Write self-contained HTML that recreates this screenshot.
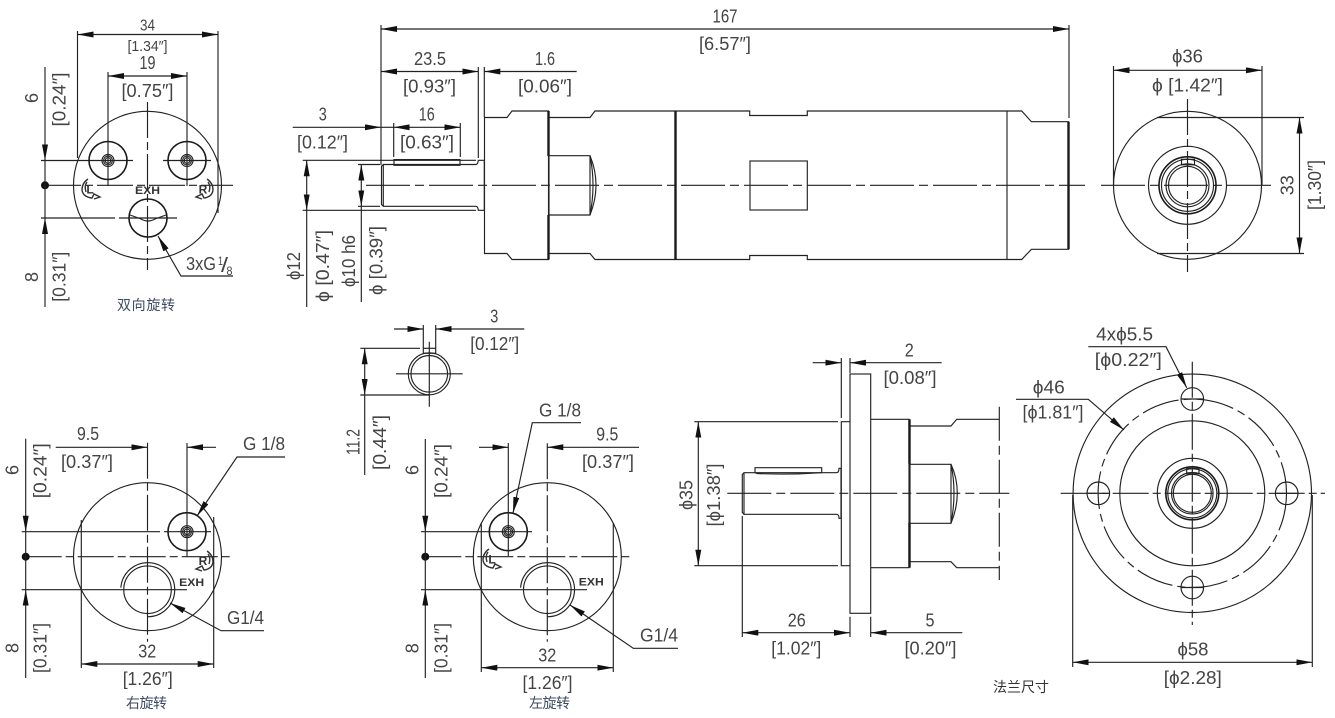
<!DOCTYPE html>
<html><head><meta charset="utf-8"><style>
html,body{margin:0;padding:0;background:#fff}
svg{display:block}
.l{fill:none;stroke:#222;stroke-width:1.15}
.s{fill:none;stroke:#333;stroke-width:1.4}
.h{fill:none;stroke:#1a1a1a;stroke-width:2.4}
.m{fill:none;stroke:#1a1a1a;stroke-width:1.6}
.c{fill:none;stroke:#222;stroke-width:1.15;stroke-dasharray:44 5 9 5}
.v{fill:none;stroke:#222;stroke-width:1.15;stroke-dasharray:36 4 8 4}
text{font-family:"Liberation Sans",sans-serif;font-size:18.5px;fill:#444;text-anchor:middle}
.b{font-weight:bold;font-size:11px;fill:#333}
.z{font-family:"Liberation Sans","WenQuanYi Zen Hei","Noto Sans CJK SC",sans-serif;font-size:14px;fill:#3c4a63}
</style></head><body>
<svg width="1335" height="718" viewBox="0 0 1335 718" xmlns="http://www.w3.org/2000/svg">
<defs>
<marker id="a" markerUnits="userSpaceOnUse" markerWidth="18" markerHeight="8" refX="16" refY="3" orient="auto-start-reverse"><path d="M0 0L16 3 0 6z" fill="#111"/></marker>
</defs>

<!-- top-left view -->
<g>
<circle class="l" cx="147.5" cy="185.3" r="74"/>
<path class="v" d="M147.5 102V270"/>
<path class="v" d="M45 185.3H233"/>
<circle cx="45" cy="185.3" r="4" fill="#111"/>
<path class="l" d="M77.5 31V158M218 31V213M108 72V186M187 72V186"/>
<path class="l" marker-start="url(#a)" marker-end="url(#a)" d="M77.5 34.5H218"/>
<path class="l" marker-start="url(#a)" marker-end="url(#a)" d="M108 76H187"/>
<path class="l" d="M45 67V160.5" marker-end="url(#a)"/>
<path class="l" d="M45 307V218" marker-end="url(#a)"/>
<path class="l" d="M45 160.5V218"/>
<path class="l" d="M41 160.5H133M163 160.5H211M41 218H115M119 218H177"/>
<circle class="m" cx="108" cy="160.5" r="19"/><circle class="l" cx="108" cy="160.5" r="6"/><circle class="l" cx="108" cy="160.5" r="4.4"/><circle class="l" cx="108" cy="160.5" r="2.8"/>
<circle class="m" cx="187" cy="160.5" r="19"/><circle class="l" cx="187" cy="160.5" r="6"/><circle class="l" cx="187" cy="160.5" r="4.4"/><circle class="l" cx="187" cy="160.5" r="2.8"/>
<circle class="m" cx="148" cy="218" r="19"/>
<path class="l" d="M130 215L141 219Q148 223 155 219L166 215"/>
<text class="b" x="147.5" y="194" textLength="25" lengthAdjust="spacingAndGlyphs">EXH</text>
<text class="b" x="203" y="193.5" style="font-size:12px">R</text>
<path class="s" d="M207 179Q213 183 213 190Q212 197 204 198L202 194L196 197L202 199M208 182Q211 186 209 192"/>
<text class="b" x="90" y="193.5" style="font-size:12px">L</text>
<path class="s" d="M88 179Q82 183 82 190Q83 197 92 198L94 194L100 197L94 199M87 182Q84 186 86 192"/>
<path class="l" d="M233 276H181L158 236" marker-end="url(#a)"/>
<text x="201" y="270" textLength="30" lengthAdjust="spacingAndGlyphs">3xG</text>
<text x="220.500" y="265" textLength="5" lengthAdjust="spacingAndGlyphs" style="font-size:12px">1</text>
<text x="224.500" y="272" textLength="7" lengthAdjust="spacingAndGlyphs" style="font-size:20px">/</text>
<text x="229.500" y="275" textLength="6" lengthAdjust="spacingAndGlyphs" style="font-size:12px">8</text>
<text x="147.500" y="30.700" textLength="15" lengthAdjust="spacingAndGlyphs" style="font-size:16px">34</text>
<text x="147.500" y="51" textLength="40" lengthAdjust="spacingAndGlyphs" style="font-size:14.5px">[1.34″]</text>
<text x="147.500" y="69" textLength="16" lengthAdjust="spacingAndGlyphs">19</text>
<text x="147.500" y="97" textLength="52" lengthAdjust="spacingAndGlyphs">[0.75″]</text>
<text transform="translate(38,98) rotate(-90)" textLength="10" lengthAdjust="spacingAndGlyphs">6</text>
<text transform="translate(65.500,99.500) rotate(-90)" textLength="54" lengthAdjust="spacingAndGlyphs">[0.24″]</text>
<text transform="translate(38,277) rotate(-90)" textLength="10" lengthAdjust="spacingAndGlyphs">8</text>
<text transform="translate(65.500,276.700) rotate(-90)" textLength="50" lengthAdjust="spacingAndGlyphs">[0.31″]</text>
<text class="z" x="146" y="310" textLength="58" style="font-size:14px">双向旋转</text>
</g>

<!-- main side view -->
<g>
<path class="c" d="M366 185.300H1085M1101 185.300H1274"/>
<path class="l" d="M381 25V165M1069 25V118"/>
<path class="l" marker-start="url(#a)" marker-end="url(#a)" d="M381 29H1069"/>
<path class="l" d="M478.300 67V158M484.300 67V117"/>
<path class="l" marker-start="url(#a)" marker-end="url(#a)" d="M381 71.500H478.300"/>
<path class="l" marker-end="url(#a)" d="M576.700 71.500H484.300"/>
<path class="l" marker-end="url(#a)" d="M292.700 127.300H381"/>
<path class="l" d="M381 127.300H394"/>
<path class="l" marker-start="url(#a)" marker-end="url(#a)" d="M393.700 127.300H460.300"/>
<path class="l" d="M393.700 123V157M460.300 123V157"/>
<path class="l" d="M302.700 160.300H476M302.700 210.300H476M358 164.500H380M358 206.300H380"/>
<path class="l" marker-start="url(#a)" marker-end="url(#a)" d="M306.700 160.300V210.300"/>
<path class="l" d="M306.700 210.300V307"/>
<path class="l" marker-start="url(#a)" marker-end="url(#a)" d="M361.300 164.500V206.300"/>
<path class="l" d="M361.300 206.300V302"/>
<!-- shaft -->
<path class="l" d="M383.300 164.500H476Q478 164 478.300 160.300H484.300V210.300H478.300Q478 206.500 476 206.300H383.300L381.500 204.500V166.300Z"/>
<path class="l" d="M383.300 164.500V206.300"/>
<path class="l" d="M394 159.600H460V165.300H394Z"/>
<!-- body -->
<path class="l" d="M484.500 117.500H507L512 111H548.500V259.500H512L507 253.500H484.500Z"/>
<path class="l" d="M549 117.500H590L595 111H749.700V115.500H807.300V111H1021.700L1031.400 121.700H1068.400V249.300H1031.400L1021.700 259.500H807.300V255.500H749.700V259.500H595L590 253.500H549"/>
<path class="h" d="M548.500 111V156M548.500 215V259.500M675.500 111V259.500M1068.500 121.700V249.300"/>
<path class="l" d="M1007 111V259.500"/>
<path class="l" d="M549 155.700H590Q596 170 596 185.300Q596 200 590 215H549Z"/>
<path class="l" d="M590 155.700Q593 170 593 185.300Q593 200 590 215V155.700"/>
<rect class="l" x="750" y="161" width="57.300" height="49"/>
<text x="725" y="22.700" textLength="25" lengthAdjust="spacingAndGlyphs">167</text>
<text x="725" y="50" textLength="52" lengthAdjust="spacingAndGlyphs">[6.57″]</text>
<text x="430" y="65" textLength="32" lengthAdjust="spacingAndGlyphs">23.5</text>
<text x="429.500" y="92.300" textLength="53" lengthAdjust="spacingAndGlyphs">[0.93″]</text>
<text x="545" y="65" textLength="20" lengthAdjust="spacingAndGlyphs">1.6</text>
<text x="545" y="92.300" textLength="54" lengthAdjust="spacingAndGlyphs">[0.06″]</text>
<text x="322.700" y="120.700" textLength="8" lengthAdjust="spacingAndGlyphs">3</text>
<text x="322.500" y="148.300" textLength="51" lengthAdjust="spacingAndGlyphs">[0.12″]</text>
<text x="426.700" y="120.700" textLength="16" lengthAdjust="spacingAndGlyphs">16</text>
<text x="427" y="148.300" textLength="54" lengthAdjust="spacingAndGlyphs">[0.63″]</text>
<text transform="translate(300,266) rotate(-90)" textLength="28" lengthAdjust="spacingAndGlyphs">ϕ12</text>
<text transform="translate(329,266) rotate(-90)" textLength="72" lengthAdjust="spacingAndGlyphs">ϕ [0.47″]</text>
<text transform="translate(355,261) rotate(-90)" textLength="52" lengthAdjust="spacingAndGlyphs">ϕ10 h6</text>
<text transform="translate(382.700,260.500) rotate(-90)" textLength="69" lengthAdjust="spacingAndGlyphs">ϕ [0.39″]</text>
</g>

<!-- top-right end view -->
<g>
<circle class="l" cx="1187.500" cy="185.300" r="74"/>
<circle class="l" cx="1187.500" cy="185.300" r="39"/>
<circle class="m" cx="1187.500" cy="185.300" r="28.500"/>
<circle class="l" cx="1187.500" cy="185.300" r="26"/>
<circle class="l" cx="1187.500" cy="185.300" r="21.500"/>
<circle class="l" cx="1187.500" cy="185.300" r="19"/>
<rect class="l" x="1181.500" y="159.300" width="13" height="5.500" fill="#fff"/>
<path class="v" d="M1187.500 99V272"/>
<path class="l" d="M1113.500 66V185M1262 66V185"/>
<path class="l" marker-start="url(#a)" marker-end="url(#a)" d="M1113.500 70.300H1262"/>
<path class="l" d="M1157 117.500H1304M1157 253.500H1304"/>
<path class="l" marker-start="url(#a)" marker-end="url(#a)" d="M1299.500 117.500V253.500"/>
<text x="1187.500" y="62.700" textLength="31" lengthAdjust="spacingAndGlyphs">ϕ36</text>
<text x="1187.500" y="91.700" textLength="71" lengthAdjust="spacingAndGlyphs">ϕ [1.42″]</text>
<text transform="translate(1293.500,185.300) rotate(-90)" textLength="20" lengthAdjust="spacingAndGlyphs">33</text>
<text transform="translate(1321,185) rotate(-90)" textLength="50" lengthAdjust="spacingAndGlyphs">[1.30″]</text>
</g>

<!-- bottom-left view -->
<g>
<circle class="l" cx="147.500" cy="556.700" r="74"/>
<path class="v" d="M147.500 442.700V641.700"/>
<path class="v" d="M25.700 556.700H232"/>
<circle cx="25.700" cy="556.700" r="4" fill="#111"/>
<path class="l" marker-end="url(#a)" d="M25.700 438.700V531.700"/>
<path class="l" marker-end="url(#a)" d="M25.700 678V589.700"/>
<path class="l" d="M25.700 531.700V589.700"/>
<path class="l" d="M21.700 531.700H160M164 531.700H211M21.700 589.700H187"/>
<circle class="m" cx="187" cy="531.700" r="19"/><circle class="l" cx="187" cy="531.700" r="6"/><circle class="l" cx="187" cy="531.700" r="4.400"/><circle class="l" cx="187" cy="531.700" r="2.800"/>
<circle class="l" cx="147.500" cy="589.700" r="23.800"/>
<path class="l" d="M120.800 587.700A27 27 0 1 1 147.500 616.700"/>
<text class="b" x="191.700" y="586" textLength="25" lengthAdjust="spacingAndGlyphs">EXH</text>
<text class="b" x="203" y="565" style="font-size:12px">R</text>
<path class="s" d="M207 551Q213 555 213 562Q212 569 204 570L202 566L196 569L202 571M208 554Q211 558 209 564"/>
<path class="l" marker-end="url(#a)" d="M55.700 447.300H147.500"/>
<path class="l" marker-end="url(#a)" d="M216 447.300H187"/>
<path class="l" d="M187 443V557"/>
<text x="88" y="440" textLength="22" lengthAdjust="spacingAndGlyphs">9.5</text>
<text x="87" y="468" textLength="52" lengthAdjust="spacingAndGlyphs">[0.37″]</text>
<text x="264" y="450" textLength="42" lengthAdjust="spacingAndGlyphs">G 1/8</text>
<path class="l" marker-end="url(#a)" d="M285 457H237L197 516"/>
<text x="245.500" y="624" textLength="37" lengthAdjust="spacingAndGlyphs">G1/4</text>
<path class="l" marker-end="url(#a)" d="M264 630.700H221L170 603"/>
<path class="l" d="M81.300 520V668M213.700 517V668"/>
<path class="l" marker-start="url(#a)" marker-end="url(#a)" d="M81.300 664H213.700"/>
<text x="147.300" y="657.300" textLength="18" lengthAdjust="spacingAndGlyphs">32</text>
<text x="147.700" y="685" textLength="50" lengthAdjust="spacingAndGlyphs">[1.26″]</text>
<text transform="translate(18.300,470) rotate(-90)" textLength="10" lengthAdjust="spacingAndGlyphs">6</text>
<text transform="translate(46.700,470.800) rotate(-90)" textLength="55" lengthAdjust="spacingAndGlyphs">[0.24″]</text>
<text transform="translate(18.300,648) rotate(-90)" textLength="10" lengthAdjust="spacingAndGlyphs">8</text>
<text transform="translate(46.700,648) rotate(-90)" textLength="50" lengthAdjust="spacingAndGlyphs">[0.31″]</text>
<text class="z" x="146.500" y="708" textLength="41">右旋转</text>
</g>

<!-- key detail -->
<g>
<circle class="l" cx="429.300" cy="373.800" r="21"/>
<circle class="l" cx="429.300" cy="373.800" r="18.300"/>
<rect class="l" x="423.300" y="348.300" width="12.400" height="5" fill="#fff"/>
<path class="l" d="M396 373.800H462.700M429.300 341.700V406.700"/>
<path class="l" d="M423.300 325V348M435.700 325V348"/>
<path class="l" marker-end="url(#a)" d="M394 329H423.300"/>
<path class="l" marker-end="url(#a)" d="M524.300 329H435.700"/>
<text x="494.300" y="322.700" textLength="8" lengthAdjust="spacingAndGlyphs">3</text>
<text x="494.700" y="350" textLength="49" lengthAdjust="spacingAndGlyphs">[0.12″]</text>
<path class="l" d="M360.300 348.300H420M360.300 395H429"/>
<path class="l" marker-start="url(#a)" marker-end="url(#a)" d="M364.700 348.300V395"/>
<path class="l" d="M364.700 395V475"/>
<text transform="translate(359.300,442) rotate(-90)" textLength="26" lengthAdjust="spacingAndGlyphs">11.2</text>
<text transform="translate(386,442.500) rotate(-90)" textLength="55" lengthAdjust="spacingAndGlyphs">[0.44″]</text>
</g>

<!-- bottom-middle view -->
<g>
<circle class="l" cx="547.300" cy="556.700" r="74"/>
<path class="v" d="M547.300 443.300V641.700"/>
<path class="v" d="M425.300 556.700H631.700"/>
<circle cx="425.300" cy="556.700" r="4" fill="#111"/>
<path class="l" marker-end="url(#a)" d="M425.300 439V531.700"/>
<path class="l" marker-end="url(#a)" d="M425.300 678V589.700"/>
<path class="l" d="M425.300 531.700V589.700"/>
<path class="l" d="M421 531.700H532M421 589.700H587"/>
<circle class="m" cx="508.300" cy="531.700" r="19"/><circle class="l" cx="508.300" cy="531.700" r="6"/><circle class="l" cx="508.300" cy="531.700" r="4.400"/><circle class="l" cx="508.300" cy="531.700" r="2.800"/>
<circle class="l" cx="547.300" cy="589.700" r="23.800"/>
<path class="l" d="M520.600 587.700A27 27 0 1 1 547.300 616.700"/>
<text class="b" x="591.300" y="585.700" textLength="25" lengthAdjust="spacingAndGlyphs">EXH</text>
<text class="b" x="492" y="563.500" style="font-size:12px">L</text>
<path class="s" d="M489 549Q483 553 483 560Q484 567 493 568L495 564L501 567L495 569M488 552Q485 556 487 562"/>
<path class="l" marker-end="url(#a)" d="M479 447.300H508.300"/>
<path class="l" marker-end="url(#a)" d="M639 447.300H547.300"/>
<path class="l" d="M508.300 443V556"/>
<text x="607.300" y="440.700" textLength="22" lengthAdjust="spacingAndGlyphs">9.5</text>
<text x="608" y="468" textLength="52" lengthAdjust="spacingAndGlyphs">[0.37″]</text>
<text x="560" y="416.700" textLength="42" lengthAdjust="spacingAndGlyphs">G 1/8</text>
<path class="l" marker-end="url(#a)" d="M581 422.700H532.300L513 513"/>
<text x="659" y="641.700" textLength="38" lengthAdjust="spacingAndGlyphs">G1/4</text>
<path class="l" marker-end="url(#a)" d="M678 648.300H633.300L570 605"/>
<path class="l" d="M481.300 523V672M613.300 523V672"/>
<path class="l" marker-start="url(#a)" marker-end="url(#a)" d="M481.300 667.700H613.300"/>
<text x="547.300" y="661.700" textLength="18" lengthAdjust="spacingAndGlyphs">32</text>
<text x="547.500" y="689" textLength="50" lengthAdjust="spacingAndGlyphs">[1.26″]</text>
<text transform="translate(418.300,470) rotate(-90)" textLength="10" lengthAdjust="spacingAndGlyphs">6</text>
<text transform="translate(447.300,471) rotate(-90)" textLength="54" lengthAdjust="spacingAndGlyphs">[0.24″]</text>
<text transform="translate(418.300,648.300) rotate(-90)" textLength="10" lengthAdjust="spacingAndGlyphs">8</text>
<text transform="translate(447.300,648) rotate(-90)" textLength="50" lengthAdjust="spacingAndGlyphs">[0.31″]</text>
<text class="z" x="549.500" y="708" textLength="41">左旋转</text>
</g>

<!-- flange side view -->
<g>
<path class="c" d="M727.300 493.300H1009.300"/>
<rect class="l" x="850" y="374" width="20.700" height="239.300"/>
<path class="l" d="M850 421.700H841.300V565.700H850"/>
<path class="l" d="M870.700 419.300H909V567.700H870.700"/>
<path class="l" d="M910 426H951L956.700 419.300H999.300M910 561.700H951L956.700 567.700H999.300"/>
<path class="h" d="M909.500 419.300V464M909.500 523V567.700"/>
<path class="l" d="M999.300 406.700V580" stroke-dasharray="34 5 9 5"/>
<path class="l" d="M910 464.300H951Q957.300 478 957.300 493.300Q957.300 508 951 523.300H910Z"/>
<path class="l" d="M951 464.300Q954 478 954 493.300Q954 508 951 523.300V464.300"/>
<path class="l" d="M744 472.700H836.700Q839 472.500 839 468.300H841V518.300H839Q839 514.500 836.700 514.300H744L742.300 512.500V474.500Z"/>
<path class="l" d="M744 472.700V514.300"/>
<path class="l" d="M755 467.700H821.700V472.700Q790 475 757 473.500L755 472.500Z"/>
<path class="l" d="M841.300 358V418M850 358V373"/>
<path class="l" marker-end="url(#a)" d="M812.700 362.700H841.300"/>
<path class="l" marker-end="url(#a)" d="M941.700 362.700H850"/>
<text x="909.300" y="356.700" textLength="9" lengthAdjust="spacingAndGlyphs">2</text>
<text x="910" y="384" textLength="53" lengthAdjust="spacingAndGlyphs">[0.08″]</text>
<path class="l" d="M694.300 421.700H838M694.300 565.700H838"/>
<path class="l" marker-start="url(#a)" marker-end="url(#a)" d="M698.300 421.700V565.700"/>
<text transform="translate(692.700,495) rotate(-90)" textLength="30" lengthAdjust="spacingAndGlyphs">ϕ35</text>
<text transform="translate(720,495) rotate(-90)" textLength="63" lengthAdjust="spacingAndGlyphs">[ϕ1.38″]</text>
<path class="l" d="M742.300 516V637M850 616.700V637M870.700 616.700V637"/>
<path class="l" marker-start="url(#a)" marker-end="url(#a)" d="M742.300 632.700H850"/>
<path class="l" marker-end="url(#a)" d="M962.300 632.700H870.700"/>
<text x="796.700" y="626.700" textLength="18" lengthAdjust="spacingAndGlyphs">26</text>
<text x="796.300" y="654.300" textLength="50" lengthAdjust="spacingAndGlyphs">[1.02″]</text>
<text x="930" y="626.700" textLength="9" lengthAdjust="spacingAndGlyphs">5</text>
<text x="930.500" y="654.300" textLength="52" lengthAdjust="spacingAndGlyphs">[0.20″]</text>
<text class="z" x="1021" y="692" textLength="56" style="fill:#333">法兰尺寸</text>
</g>

<!-- flange front view -->
<g>
<circle class="l" cx="1192.300" cy="493.300" r="119.200"/>
<circle class="l" cx="1192.300" cy="493.300" r="94.200" stroke-dasharray="38 5 8 5"/>
<circle class="l" cx="1192.300" cy="493.300" r="72.500"/>
<circle class="l" cx="1192.300" cy="493.300" r="35"/>
<circle class="m" cx="1192.300" cy="493.300" r="26.500"/>
<circle class="l" cx="1192.300" cy="493.300" r="24.500"/>
<circle class="l" cx="1192.300" cy="493.300" r="20.800"/>
<circle class="l" cx="1192.300" cy="493.300" r="19"/>
<rect class="l" x="1186.700" y="468.300" width="12.300" height="5.500" fill="#fff"/>
<circle class="l" cx="1192.300" cy="399" r="11.300" fill="#fff"/>
<circle class="l" cx="1098.300" cy="493.300" r="11.300" fill="#fff"/>
<circle class="l" cx="1286.700" cy="493.300" r="11.300" fill="#fff"/>
<circle class="l" cx="1192.300" cy="587.500" r="11.300" fill="#fff"/>
<path class="l" d="M1181 399H1203.600M1087 493.300H1109.600M1275.400 493.300H1298M1181 587.500H1203.600"/>
<path class="v" d="M1192.300 361.700V625"/>
<path class="v" d="M1060.700 493.300H1325"/>
<path class="l" d="M1072.700 495V667M1312.300 495V667"/>
<path class="l" marker-start="url(#a)" marker-end="url(#a)" d="M1072.700 662.300H1312.300"/>
<text x="1193" y="655.700" textLength="31" lengthAdjust="spacingAndGlyphs">ϕ58</text>
<text x="1192.800" y="684" textLength="58" lengthAdjust="spacingAndGlyphs">[ϕ2.28]</text>
<path class="l" marker-end="url(#a)" d="M1088.300 346.700H1166L1186.700 387.700"/>
<text x="1124.600" y="340.700" textLength="57" lengthAdjust="spacingAndGlyphs">4xϕ5.5</text>
<text x="1128.300" y="366" textLength="67" lengthAdjust="spacingAndGlyphs">[ϕ0.22″]</text>
<path class="l" marker-end="url(#a)" d="M1016 399.300H1088.300L1124 430"/>
<text x="1048.800" y="393.300" textLength="32" lengthAdjust="spacingAndGlyphs">ϕ46</text>
<text x="1053" y="418.300" textLength="61" lengthAdjust="spacingAndGlyphs">[ϕ1.81″]</text>
</g>
</svg>
</body></html>
